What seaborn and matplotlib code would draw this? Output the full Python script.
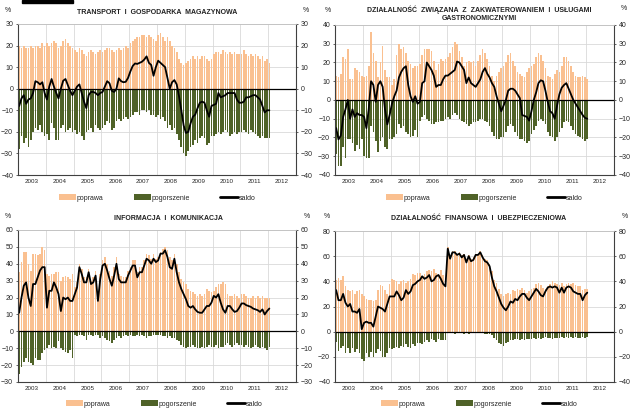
import matplotlib
matplotlib.use("Agg")
import matplotlib.pyplot as plt
import seaborn as sns
import numpy as np
from matplotlib.patches import Patch, Rectangle
from matplotlib.lines import Line2D

# set plot themes
sns.set_style("white")
plt.rcParams["font.family"] = ["Liberation Sans Narrow", "Liberation Sans", "DejaVu Sans"]

YEARS = [str(y) for y in range(2003, 2013)]
COL_UP = "#FAC090"
COL_DOWN = "#4F6228"

# monthly values Jan 2003 - Jan 2012 (%)
tr_poprawa = [
    20, 19, 20, 19, 19, 20, 19, 20, 20, 19, 21, 20,
    21, 20, 21, 22, 21, 19, 20, 22, 23, 21, 20, 19,
    18, 17, 19, 18, 16, 15, 17, 18, 17, 16, 17, 18,
    17, 18, 19, 19, 18, 17, 18, 19, 18, 19, 20, 19,
    21, 22, 23, 24, 24, 25, 25, 24, 25, 24, 23, 22,
    25, 26, 24, 22, 24, 22, 20, 19, 17, 14, 12, 11,
    12, 13, 14, 15, 14, 15, 14, 15, 15, 14, 13, 14,
    16, 17, 17, 16, 18, 17, 16, 17, 16, 17, 16, 16,
    16, 18, 16, 15, 16, 15, 16, 15, 14, 15, 13, 14,
    12]
tr_pogorszenie = [
    -28, -22, -25, -23, -27, -24, -20, -18, -19, -17, -20, -22,
    -21, -24, -16, -18, -24, -24, -18, -17, -20, -19, -18, -20,
    -19, -21, -20, -22, -24, -20, -19, -18, -20, -17, -18, -19,
    -18, -17, -15, -16, -19, -18, -15, -14, -15, -14, -13, -14,
    -13, -12, -11, -11, -12, -10, -10, -11, -10, -12, -12, -13,
    -12, -14, -13, -15, -18, -17, -19, -18, -21, -24, -27, -30,
    -31, -29, -27, -26, -24, -25, -23, -22, -23, -26, -25, -22,
    -22, -21, -20, -21, -20, -19, -20, -22, -21, -20, -21, -20,
    -20, -19, -20, -21, -19, -20, -21, -22, -23, -22, -23, -23,
    -23]
tr_saldo = [
    -8, -4.5, -3, -7, -5, -4.5, -2, 3.5, 3, 2, 3, -2,
    -5, 1, 4.5, 1, -2, -4.5, 0, 3.7, 4.5, 1.7, -1, -3,
    -1, 1, 2, -2, -6, -9, -3, -1.5, -1.5, -2, -3, -2,
    -1.5, 1, 3.5, 2.5, -1, -1.5, 0, 4.8, 3.5, 3, 3.2, 5,
    8, 10.5, 11.7, 11.5, 12, 12.5, 13.5, 15, 12, 11, 6, 10,
    13, 12, 11, 10, 5, 0, 3, 4, 2, -3.5, -10, -17,
    -20.5, -20, -16, -13, -12, -9, -6.5, -6, -6.5, -10, -13, -8,
    -7.5, -7, -2, -4, -3.5, -3, -2, -2, -2, -2, -5, -6.5,
    -6.5, -6, -4, -4, -3.5, -3, -3, -4, -5, -8, -11, -10,
    -10]

ga_poprawa = [
    13, 12, 14, 23, 22, 27, 11, 11, 17, 16, 15, 13,
    12, 13, 18, 36, 25, 21, 12, 20, 29, 16, 12, 12,
    8, 11, 24, 30, 27, 28, 25, 21, 19, 17, 18, 18,
    19, 24, 27, 27, 27, 26, 21, 16, 19, 22, 21, 22,
    23, 25, 28, 31, 30, 26, 23, 18, 20, 21, 20, 21,
    18, 21, 24, 27, 25, 22, 18, 13, 10, 13, 15, 17,
    18, 20, 24, 25, 21, 18, 15, 14, 13, 12, 15, 17,
    18, 19, 23, 25, 24, 21, 17, 13, 12, 11, 14, 16,
    15, 18, 23, 23, 21, 18, 15, 13, 12, 12, 13, 12,
    11]
ga_pogorszenie = [
    -29, -35, -35, -25, -31, -21, -21, -23, -27, -24, -26, -21,
    -30, -31, -31, -14, -17, -22, -28, -22, -20, -25, -26, -21,
    -21, -20, -18, -13, -15, -14, -17, -18, -20, -19, -16, -20,
    -11, -9, -8, -10, -11, -13, -13, -12, -12, -11, -11, -10,
    -9, -10, -8, -7, -8, -10, -11, -12, -13, -14, -13, -12,
    -12, -11, -10, -10, -11, -12, -14, -17, -19, -21, -21, -20,
    -20, -17, -14, -13, -14, -17, -19, -21, -21, -22, -23, -22,
    -18, -16, -14, -11, -10, -11, -13, -17, -19, -20, -22, -20,
    -17, -15, -12, -11, -12, -14, -16, -18, -19, -20, -21, -22,
    -21]
ga_saldo = [
    -15, -21, -19, -9, -5, 0, -10, -5, -9, -7, -8, -8,
    -9, -15, -5, 10, 8, -1, 8, 10, 7, -5, -13, -8,
    -2, 2, 5, 12, 15, 17, 18, 8, 2, -1, 2, -2,
    -1, 9, 10, 20, 18, 16, 13, 7, 8, 8, 11, 13,
    13, 14, 15, 16, 20.5, 20, 18, 16, 9, 12, 9, 8,
    7, 9, 11, 15, 17, 14, 12, 9, 7, 2, -2, -6,
    -3, 0, 5, 6, 6, 5, 3, 1, -8, -8.5, -9, -11,
    -6, 0, 4, 9, 10.5, 10, 5, -1, -6, -7, -10, -3,
    3, 6.5, 8, 9, 6, 3, 0, -2, -4, -6, -8, -9.5,
    -10]

in_poprawa = [
    35, 41, 47, 47, 40, 36, 46, 46, 45, 46, 50, 48,
    34, 33, 34, 34, 35, 35, 30, 32, 33, 32, 31, 34,
    26, 29, 40, 37, 32, 32, 37, 30, 32, 36, 22, 34,
    42, 44, 40, 36, 33, 38, 44, 34, 33, 32, 32, 36,
    38, 42, 42, 35, 38, 38, 42, 46, 45, 43, 46, 43,
    44, 47, 49, 50, 48, 44, 42, 46, 40, 35, 31, 29,
    28, 25, 24, 23, 22, 21, 22, 21, 22, 25, 24, 23,
    24, 26, 28, 28, 29, 28, 22, 21, 21, 22, 21, 20,
    22, 22, 21, 20, 20, 21, 20, 21, 20, 21, 20, 20,
    20]
in_pogorszenie = [
    -25, -21, -18, -16, -18, -19, -20, -16, -17, -17, -13, -11,
    -10, -8, -10, -9, -10, -6, -10, -11, -12, -13, -11, -16,
    -2, -3, -2, -2, -3, -5, -2, -2, -3, -2, -2, -4,
    -3, -4, -5, -6, -7, -5, -4, -3, -4, -3, -2, -3,
    -2, -3, -3, -2, -3, -2, -3, -4, -3, -3, -2, -2,
    -2, -2, -3, -3, -4, -3, -4, -4, -5, -6, -8, -9,
    -10, -9, -9, -8, -9, -10, -10, -9, -10, -9, -8, -9,
    -9, -8, -10, -9, -9, -8, -7, -8, -9, -8, -7, -8,
    -8, -9, -8, -9, -10, -9, -8, -9, -10, -9, -10, -11,
    -9]
in_saldo = [
    11, 20, 27, 29, 20, 15, 28, 28, 32, 36, 38, 38,
    14, 24, 24, 29, 26, 22, 12, 20, 19, 20, 18, 18,
    22, 26, 38, 34, 29, 29, 35, 28, 29, 33, 18, 31,
    39, 40, 36, 31, 27, 33, 40, 31, 29, 29, 29, 33,
    36, 39, 39, 32, 35, 35, 39, 43, 42, 40, 43, 41,
    42, 46, 46, 48, 44, 38, 37, 43, 35, 29, 25, 22,
    19, 15, 14, 15, 13, 11.5, 11, 11, 13, 15, 15, 17,
    21, 20, 22, 17, 13, 11, 15, 15, 13, 11.5, 12, 14,
    16.5, 16.5, 15.5, 15, 14.5, 13.5, 13, 12.5, 11.5, 13, 10, 12,
    13.5]

fi_poprawa = [
    41, 43, 41, 44, 36, 33, 32, 33, 30, 32, 33, 30,
    28, 26, 25, 25, 24, 25, 33, 37, 36, 33, 30, 38,
    42, 41, 40, 38, 40, 41, 39, 40, 42, 46, 45, 47,
    47, 44, 46, 48, 49, 48, 50, 47, 46, 49, 45, 42,
    67, 60, 64, 64, 62, 63, 61, 62, 57, 61, 58, 59,
    62, 62, 64, 61, 58, 57, 54, 48, 41, 39, 34, 30,
    28, 30, 31, 30, 33, 32, 34, 33, 35, 33, 31, 32,
    34, 35, 38, 39, 37, 35, 34, 36, 38, 40, 39, 38,
    37, 39, 36, 38, 39, 38, 39, 37, 36, 36, 33, 34,
    34]
fi_pogorszenie = [
    -8, -15, -13, -11, -17, -13, -17, -13, -16, -14, -17, -22,
    -23, -17, -20, -16, -20, -17, -14, -15, -20, -20, -17, -13,
    -14, -13, -12, -13, -11, -12, -10, -12, -13, -10, -11, -9,
    -9, -10, -8, -7, -8, -6, -7, -8, -6, -7, -7, -7,
    -1, -1, -1, -2, -1, -1, -1, -2, -1, -2, -1, -1,
    -1, -1, -1, -1, -2, -2, -2, -3, -5, -7, -9, -10,
    -11, -9, -8, -7, -7, -6, -6, -7, -6, -7, -6, -6,
    -6, -5, -6, -5, -6, -5, -4, -5, -5, -6, -5, -5,
    -5, -4, -5, -4, -5, -4, -5, -4, -5, -5, -4, -5,
    -4]
fi_saldo = [
    33, 25, 25, 30, 23, 20, 22, 16, 16, 15, 18, 2,
    7, 8, 7, 7, 4, 12, 20, 19, 18, 16, 22, 28,
    28, 28, 32, 29, 25, 27, 33, 30, 32, 37, 38, 40,
    41, 44, 42, 43, 45, 40, 41, 44, 45, 42, 38, 36,
    66, 58, 63, 63, 61, 62, 59, 61, 55, 60, 56, 57,
    61, 61, 63, 59, 56, 55, 52, 43, 36, 32, 27, 22,
    19, 17, 20, 24, 23, 26, 25, 28, 30, 30, 27, 25,
    28, 31, 34, 32, 29, 28, 32, 35, 36, 35, 36, 35,
    31, 35, 31, 35, 36, 35, 32, 31, 30, 30, 25, 29,
    31]


def panel(ax, up, down, saldo, ylim, step):
    months = np.arange(len(saldo))
    sns.barplot(x=months, y=up, ax=ax, color=COL_UP, saturation=1, width=0.72,
                native_scale=True, errorbar=None, linewidth=0)
    sns.barplot(x=months, y=down, ax=ax, color=COL_DOWN, saturation=1, width=0.72,
                native_scale=True, errorbar=None, linewidth=0)
    sns.lineplot(x=months, y=saldo, ax=ax, color="black", linewidth=1.3)
    ax.axhline(0, color="black", lw=0.9)
    ax.set_axisbelow(True)
    ax.set_xlim(-0.5, 119.5)
    ax.set_ylim(*ylim)
    ax.set_yticks(np.arange(ylim[0], ylim[1] + 1, step))
    ax.set_xticks(np.arange(5.5, 120, 12))
    ax.set_xticklabels(YEARS)
    ax.set_xticks(np.arange(-0.5, 120, 12), minor=True)
    ax.grid(which="minor", axis="x", color="#D9D9D9", lw=0.6)
    ax.grid(which="major", axis="y", color="#D9D9D9", lw=0.6)
    ax.grid(which="major", axis="x", visible=False)
    ax.tick_params(axis="x", which="both", length=0, labelsize=4.5, pad=3)
    ax.tick_params(axis="y", labelsize=5, labelright=True, right=True, left=True,
                   length=1.5, width=0.5, pad=2)
    for s in ["left", "right", "bottom"]:
        ax.spines[s].set_color("#404040")
        ax.spines[s].set_linewidth(0.8)
    ax.spines["top"].set_color("#BFBFBF")
    ax.spines["top"].set_linewidth(0.6)
    ax.set_xlabel("")
    ax.set_ylabel("")


fig = plt.figure(figsize=(6.4, 4.12), dpi=100)
W, H = 640, 412


def box(x0, y0, x1, y1):
    return [x0 / W, 1 - y1 / H, (x1 - x0) / W, (y1 - y0) / H]


ax1 = fig.add_axes(box(18, 24, 296, 175))
ax2 = fig.add_axes(box(335, 25, 614, 175))
ax3 = fig.add_axes(box(18, 230, 296, 382))
ax4 = fig.add_axes(box(335, 231, 614, 382))

panel(ax1, tr_poprawa, tr_pogorszenie, tr_saldo, (-40, 30), 10)
panel(ax2, ga_poprawa, ga_pogorszenie, ga_saldo, (-40, 40), 10)
panel(ax3, in_poprawa, in_pogorszenie, in_saldo, (-30, 60), 10)
panel(ax4, fi_poprawa, fi_pogorszenie, fi_saldo, (-40, 80), 20)


def ftext(x, y, s, **kw):
    fig.text(x / W, 1 - y / H, s, **kw)


tkw = dict(fontsize=5, fontweight="bold", ha="center", va="center", color="#222222")
ftext(157, 12, "TRANSPORT  I  GOSPODARKA  MAGAZYNOWA", **tkw)
ftext(479, 10, "DZIAŁALNOŚĆ  ZWIĄZANA  Z  ZAKWATEROWANIEM  I  USŁUGAMI", **tkw)
ftext(479, 18, "GASTRONOMICZNYMI", **tkw)
ftext(168, 219, "INFORMACJA  I  KOMUNIKACJA", **tkw)
ftext(479, 219, "DZIAŁALNOŚĆ  FINANSOWA  I  UBEZPIECZENIOWA", **tkw)

pkw = dict(fontsize=5, ha="center", va="center", color="#222222")
for x, y in [(8, 10), (306, 10), (328, 10), (624, 9), (8, 217), (307, 217), (327, 217), (625, 217)]:
    ftext(x, y, "%", **pkw)

handles = [Patch(facecolor=COL_UP, edgecolor="none"),
           Patch(facecolor=COL_DOWN, edgecolor="none"),
           Line2D([0], [0], color="black", lw=2)]
labels = ["poprawa", "pogorszenie", "saldo"]
for cx, cy in [(157, 198), (484, 198), (164, 404), (479, 404)]:
    fig.legend(handles, labels, loc="center", bbox_to_anchor=(cx / W, 1 - cy / H),
               ncol=3, fontsize=5, frameon=False, handlelength=2.5, handleheight=0.8,
               handletextpad=0.15, columnspacing=4.3, borderpad=0)

# black bar at the top left corner
fig.patches.append(Rectangle((22 / W, 1 - 2.5 / H), 51 / W, 2.5 / H,
                             transform=fig.transFigure, color="black"))

fig.savefig("out.png", dpi=100, facecolor="white")
